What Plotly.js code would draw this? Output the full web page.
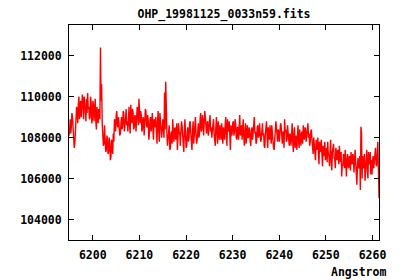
<!DOCTYPE html>
<html>
<head>
<meta charset="utf-8">
<script src="https://cdn.plot.ly/plotly-3.0.1.min.js"></script>
<style>html,body{margin:0;padding:0;background:#fff;}#chart{width:400px;height:280px;}</style>
</head>
<body>
<div id="chart"></div>
<script>
// Spectrum sampled on a regular wavelength grid (start, step) as in the FITS header
const titleText = "OHP_19981125_0033n59.fits";
const xLabel = "Angstrom";
const lambdaStart = 6194.9;
const lambdaStep = 0.125;
const flux = [
108100,108300,108900,108200,108500,109200,109000,108400,108300,107500,107700,108400,108600,109500,109200,108700,109600,110000,108900,109300,
109800,109000,109400,110100,109700,108900,110000,109300,109300,108800,109900,109200,110180,109400,109500,108900,109000,110000,109700,108700,
108900,109800,109600,108800,109200,109900,108800,108400,109500,109100,108700,109400,109300,108900,112400,109800,110600,108700,108300,107600,
107700,108600,108200,107300,107400,108100,107900,107200,107300,108000,107700,106900,107050,107900,107600,107200,108200,107800,108900,108400,
108300,109100,109300,108600,108500,109000,108700,108100,108200,108900,109000,108400,108600,109300,109200,108300,108500,108900,109400,108600,
108800,108300,109100,109500,108600,108200,109600,108900,108700,109400,109200,108400,108500,109100,109000,108300,108800,109500,109300,108600,
109900,108900,108700,109300,109100,108300,108400,109000,108900,108100,108600,109400,109300,108600,108500,109100,108800,107900,108200,108900,
109000,108300,108700,109200,108400,107900,108900,108500,108500,109000,108100,107700,108800,109300,108300,107800,109200,108700,108600,108000,
108400,108900,108500,108000,110200,108400,110730,108600,108200,107600,107900,108500,108600,107400,107500,108200,108300,107700,108900,108300,
107800,108400,108500,107900,108100,108700,107400,108000,108700,108200,108300,107600,108000,108800,108600,108100,107700,107300,108400,108900,
108100,107500,107600,108300,108500,107800,108000,108700,108800,108200,107800,107400,108300,108800,107700,108100,108600,109000,108100,107700,
107900,108400,108700,108000,108200,108900,109200,108300,108400,109100,108900,108100,108600,109300,109000,108400,108200,108700,108800,108100,
108400,108900,109100,108300,108500,108000,108300,108800,108900,108200,108000,107600,108500,109000,108200,107700,108800,108400,107900,108600,
108400,107900,108700,108200,107700,108500,108300,107900,108600,109000,108100,107600,108900,108300,108400,108800,107800,107400,108600,108100,
108200,108700,108800,108100,108300,108900,108700,108000,107900,108500,108500,107900,108900,109100,108100,108500,108600,107900,108400,108900,
108000,107600,108300,108700,107700,108200,108600,108000,108000,108500,108400,107800,107600,108300,108500,107900,108200,108600,109000,108200,
108300,107700,107800,108500,108600,108000,108100,108700,108400,107800,107900,108300,108700,108100,108200,107600,107500,108200,108400,108800,
108000,107500,108500,108100,107900,108600,108300,107700,108600,108100,108000,107500,107400,108100,108200,108800,108500,107900,107800,108400,
108300,107800,108100,108700,108600,108000,107700,108300,108200,107500,108900,108300,108400,107800,107900,108600,108300,107900,107600,108200,
108100,107600,108300,108700,107800,107300,108200,108500,107500,107900,108100,107400,108000,108600,107900,107500,108400,108000,107600,108200,
108300,107700,108600,108100,107900,108500,108400,107800,108100,108600,108700,108000,108200,107600,107800,108300,108400,107900,107600,107200,
108000,107500,107300,106900,107900,107400,107500,108000,107200,106700,107800,107300,107400,107900,107000,106600,107600,107100,107300,107800,
106900,107300,107500,106800,107800,107200,107100,106600,107400,107900,106800,106400,107300,107600,107700,107000,107000,106500,107500,107100,
106900,107400,107300,106700,107600,107000,106800,107300,106100,106700,106600,107200,107100,106500,107400,106900,106100,106800,107200,106600,
106500,107100,107000,106400,107300,106800,106700,107200,107100,106300,106900,107400,106800,106200,105700,106600,107000,106500,106600,107100,
105440,108530,108200,106000,107100,106500,106700,107200,105900,106400,107000,107400,106400,106000,107300,106700,106800,107300,106200,106900,
106200,106900,107100,106500,106900,107400,107500,106700,106600,107200,107800,106400,105050
];
const xTicks = [6200, 6210, 6220, 6230, 6240, 6250, 6260];
const yTicks = [104000, 106000, 108000, 110000, 112000];
const wavelength = flux.map((_, i) => +(lambdaStart + i * lambdaStep).toFixed(3));

const tickFont = {family: "DejaVu Sans Mono", size: 11.5, color: "#000", weight: "bold"};

Plotly.newPlot("chart", [{
  x: wavelength, y: flux, type: "scatter", mode: "lines",
  line: {color: "#ff0000", width: 1.4}, hoverinfo: "skip"
}], {
  width: 400, height: 280,
  margin: {l: 69, r: 21, t: 25, b: 40, pad: 0},
  paper_bgcolor: "#fff", plot_bgcolor: "#fff",
  showlegend: false,
  title: {text: titleText, font: {family: "DejaVu Sans Mono", size: 11.5, color: "#000", weight: "bold"},
          x: 0.5, xref: "paper", xanchor: "center", y: 0.949, yref: "container", yanchor: "middle"},
  xaxis: {range: [6194.9, 6261.4], tickvals: xTicks, ticktext: xTicks.map(String),
          ticks: "inside", ticklen: 5, tickwidth: 1, tickcolor: "#000", mirror: "ticks",
          showline: true, linecolor: "#000", linewidth: 1, showgrid: false, zeroline: false,
          tickfont: tickFont, ticklabelstandoff: 4},
  yaxis: {range: [103000, 113500], tickvals: yTicks, ticktext: yTicks.map(String),
          ticks: "inside", ticklen: 5, tickwidth: 1, tickcolor: "#000", mirror: "ticks",
          showline: true, linecolor: "#000", linewidth: 1, showgrid: false, zeroline: false,
          tickfont: tickFont, ticklabelstandoff: 4},
  annotations: [{text: xLabel, xref: "paper", yref: "paper", x: 1.029, y: -0.147,
                 xanchor: "right", yanchor: "middle", showarrow: false,
                 font: {family: "DejaVu Sans Mono", size: 11.5, color: "#000", weight: "bold"}}]
}, {displayModeBar: false, staticPlot: true});
</script>
</body>
</html>
